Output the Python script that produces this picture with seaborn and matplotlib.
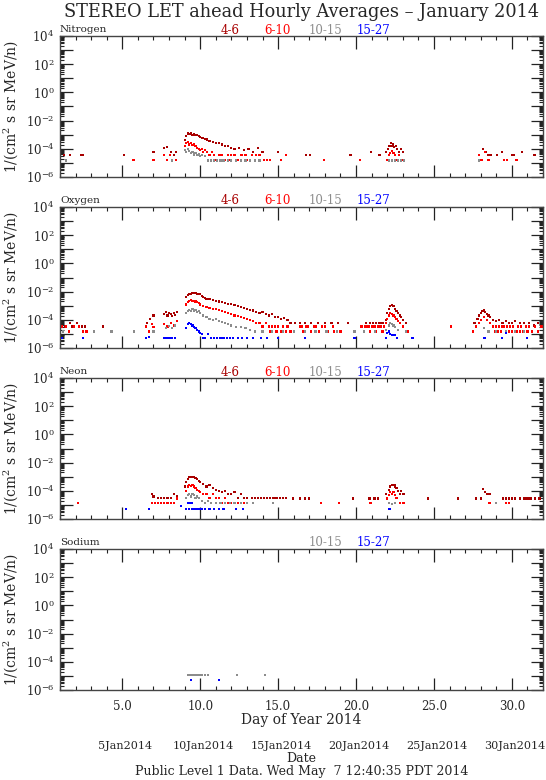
import numpy as np
import pandas as pd
import matplotlib
matplotlib.use("Agg")
import matplotlib.pyplot as plt
import matplotlib.ticker as mticker
import matplotlib.transforms as mtransforms
import seaborn as sns

# ---- data (day of year, flux) ----
channels = ["4-6", "6-10", "10-15", "15-27"]
channel_colors = ["#a80000", "#ff0000", "#8c8c8c", "#0000ff"]

# Nitrogen
n46_day = [1.25, 1.63, 2.35, 2.46, 5.12, 7.0, 7.67, 7.85, 8.1, 8.3, 8.45,
           9.0, 9.1, 9.2, 9.3, 9.4, 9.5, 9.6, 9.7, 9.8, 9.9, 10.0, 10.15, 10.3, 10.45, 10.6, 10.8,
           11.0, 11.2, 11.4, 11.6, 11.8, 12.0, 12.2, 12.5, 12.8, 13.1, 13.4, 13.7, 14.0,
           14.97, 15.5, 16.77, 17.07, 19.65, 20.94, 21.51,
           21.94, 22.05, 22.15, 22.25, 22.3, 22.35, 22.45, 22.55, 22.65, 22.75, 22.9, 23.0,
           28.14, 28.35, 28.5, 28.67, 29.03, 29.38, 30.0, 30.15, 30.64, 31.45]
n46_flux = [3.5e-5, 3.5e-5, 3.5e-5, 3.5e-5, 3.5e-5, 6e-5, 1.1e-4, 1.3e-4, 6e-5, 3.5e-5, 6e-5,
            4e-4, 8e-4, 1.2e-3, 1.1e-3, 1.2e-3, 1.0e-3, 1.1e-3, 9e-4, 1.0e-3, 8e-4, 7e-4, 6e-4, 5e-4, 4.5e-4, 3.5e-4, 3e-4,
            2.5e-4, 2.5e-4, 2e-4, 1.5e-4, 1.5e-4, 1.2e-4, 1e-4, 1.2e-4, 8e-5, 1e-4, 6e-5, 1.2e-4, 6e-5,
            6e-5, 3.5e-5, 3.5e-5, 3.5e-5, 3.5e-5, 6e-5, 3.5e-5,
            6e-5, 1.0e-4, 1.6e-4, 2.7e-4, 1.6e-4, 2.0e-4, 1.3e-4, 1.6e-4, 1e-4, 6e-5, 1e-4, 6e-5,
            1e-4, 6e-5, 3.5e-5, 3.5e-5, 3.5e-5, 6e-5, 3.5e-5, 3.5e-5, 6e-5, 3.5e-5]
n610_day = [5.72, 7.0, 7.7, 7.85, 8.07, 8.2, 8.45,
            9.0, 9.1, 9.2, 9.3, 9.4, 9.5, 9.6, 9.7, 9.8, 9.9, 10.0, 10.1, 10.2, 10.3, 10.45, 10.6,
            10.75, 10.9, 11.05, 11.2, 11.4, 11.6, 11.8, 12.0, 12.3, 12.6, 12.9, 13.2, 13.5, 13.8,
            14.1, 14.5, 10.5, 10.7, 11.0, 11.3, 11.5, 11.9, 12.2, 12.4, 12.7, 13.0, 13.3, 13.6, 14.3,
            15.2, 15.5, 17.92, 20.25, 21.99, 22.1, 22.2, 22.3, 22.4, 22.5, 22.6, 22.75, 22.9, 23.05,
            27.9, 28.05, 28.3, 28.5, 29.5, 29.7, 30.3]
n610_flux = [1.6e-5, 1.6e-5, 3.5e-5, 1.6e-5, 3.5e-5, 1.6e-5, 1.6e-5,
             1.5e-4, 2.5e-4, 3e-4, 2e-4, 2.5e-4, 1.8e-4, 2.2e-4, 1.5e-4, 1.2e-4, 1e-4, 8e-5, 1e-4, 6e-5, 8e-5, 6e-5, 3.5e-5,
             6e-5, 3.5e-5, 1.6e-5, 3.5e-5, 3.5e-5, 1.6e-5, 3.5e-5, 3.5e-5, 1.6e-5, 3.5e-5, 3.5e-5, 1.6e-5, 1.6e-5, 3.5e-5,
             1.6e-5, 1.6e-5, 1.6e-5, 1.6e-5, 1.6e-5, 3.5e-5, 1.6e-5, 1.6e-5, 3.5e-5, 1.6e-5, 3.5e-5, 1.6e-5, 3.5e-5, 3.5e-5, 1.6e-5,
             1.6e-5, 3.5e-5, 1.6e-5, 1.6e-5, 1.6e-5, 3.5e-5, 5e-5, 7e-5, 5e-5, 3.5e-5, 1.6e-5, 3.5e-5, 1.6e-5, 1.6e-5,
             3.5e-5, 1.6e-5, 6e-5, 1.6e-5, 1.6e-5, 1.6e-5, 1.6e-5]
n1015_day = [1.4, 8.18, 9.0, 9.1, 9.2, 9.3, 9.4, 9.5, 9.6, 9.7, 9.8, 9.9, 10.0, 10.1, 10.3,
             10.5, 10.7, 10.9, 11.1, 11.3, 11.5, 11.8, 12.0, 12.3, 12.6, 12.9, 13.2, 13.5, 13.8,
             22.1, 22.3, 22.5, 22.7, 22.9, 23.1, 27.9]
n1015_flux = [1.5e-5, 1.5e-5, 8e-5, 6e-5, 1e-4, 7e-5, 5e-5, 6e-5, 4e-5, 5e-5, 3.5e-5, 4e-5, 3e-5, 3.5e-5, 3e-5,
              1.5e-5, 1.5e-5, 1.5e-5, 1.5e-5, 1.5e-5, 1.5e-5, 1.5e-5, 1.5e-5, 1.5e-5, 1.5e-5, 1.5e-5, 1.5e-5, 1.5e-5, 1.5e-5,
              1.5e-5, 1.5e-5, 1.5e-5, 1.5e-5, 1.5e-5, 1.5e-5, 1.5e-5]
n1527_day = []
n1527_flux = []

# Oxygen
o46_day = [1.1, 1.3, 1.63, 1.8, 2.1, 2.4, 2.6, 3.75, 6.6, 6.8, 7.0,
           7.7, 7.8, 7.9, 8.0, 8.1, 8.2, 8.3, 8.4, 8.5,
           9.1, 9.2, 9.3, 9.4, 9.5, 9.6, 9.7, 9.8, 9.9, 10.0, 10.1, 10.2, 10.3, 10.4, 10.6, 10.8,
           11.0, 11.2, 11.4, 11.6, 11.8, 12.0, 12.2, 12.4, 12.6, 12.8, 13.0, 13.2, 13.4, 13.6, 13.8,
           14.0, 14.2, 14.4, 14.6, 14.8, 15.0, 15.2, 15.4, 15.6, 15.8,
           16.06, 16.38, 16.71, 17.13, 17.56, 17.99, 18.42, 18.84, 19.48, 20.66, 20.9, 21.1, 21.3, 21.5, 21.7,
           21.9, 22.0, 22.1, 22.2, 22.3, 22.4, 22.5, 22.6, 22.7, 22.8, 22.9, 23.0, 23.2,
           27.6, 27.8, 27.9, 28.0, 28.1, 28.2, 28.3, 28.4, 28.5, 28.6, 28.8, 29.0, 29.2, 29.4,
           29.6, 29.8, 30.0, 30.2, 30.5, 30.8, 31.1, 31.4, 31.7]
o46_flux = [3.3e-5, 3.3e-5, 6e-5, 3.3e-5, 6e-5, 3.3e-5, 3.3e-5, 3.3e-5, 6e-5, 1.2e-4, 2e-4,
            2.5e-4, 3.5e-4, 2e-4, 3e-4, 2.5e-4, 1.8e-4, 3e-4, 2.2e-4, 3.5e-4,
            4e-3, 5.5e-3, 6.5e-3, 7e-3, 7.5e-3, 8e-3, 7.5e-3, 7e-3, 7e-3, 6.5e-3, 5e-3, 4e-3, 3.5e-3, 3e-3, 2.8e-3, 2.5e-3,
            2.2e-3, 2e-3, 1.8e-3, 1.6e-3, 1.4e-3, 1.3e-3, 1.1e-3, 9e-4, 8e-4, 7e-4, 6e-4, 5e-4, 4.5e-4, 3.5e-4, 3e-4,
            3.5e-4, 2.5e-4, 2e-4, 2.5e-4, 1.5e-4, 1.5e-4, 1.2e-4, 1.3e-4, 1e-4, 6e-5,
            6e-5, 6e-5, 6e-5, 6e-5, 6e-5, 6e-5, 6e-5, 6e-5, 6e-5, 6e-5, 6e-5, 6e-5, 6e-5, 6e-5, 6e-5,
            1e-4, 3e-4, 6e-4, 1e-3, 1.1e-3, 9e-4, 6e-4, 4e-4, 3e-4, 2e-4, 1.5e-4, 1e-4, 6e-5,
            6e-5, 1.2e-4, 2e-4, 3e-4, 4e-4, 4.5e-4, 3.5e-4, 2.5e-4, 2e-4, 1.5e-4, 1e-4, 8e-5, 1e-4, 6e-5,
            8e-5, 6e-5, 6e-5, 8e-5, 6e-5, 6e-5, 6e-5, 4e-5, 6e-5]
o610_day = [1.1, 1.2, 1.4, 1.6, 1.9, 2.2, 2.5, 2.7, 6.5, 6.7, 6.9, 7.0, 7.7, 7.9, 8.1, 8.3, 8.5,
            9.1, 9.2, 9.3, 9.4, 9.5, 9.6, 9.7, 9.8, 9.9, 10.0, 10.2, 10.4, 10.6, 10.8, 11.0, 11.2, 11.4,
            11.6, 11.8, 12.0, 12.2, 12.4, 12.6, 12.8, 13.0, 13.2, 13.4, 13.6, 13.8, 14.0, 14.2,
            14.4, 14.5, 14.6, 14.8, 14.9, 15.0, 15.2, 15.3, 15.5, 15.6, 15.8, 16.0, 16.4, 16.5, 16.6,
            16.8, 16.9, 17.1, 17.3, 17.4, 17.6, 17.8, 18.0, 18.2, 18.5, 18.6, 19.0, 20.3, 20.4, 20.5,
            20.6, 20.7, 20.8, 20.9, 21.0, 21.1, 21.2, 21.3, 21.4, 21.5, 21.6, 21.7, 21.8,
            21.9, 22.0, 22.1, 22.2, 22.3, 22.4, 22.5, 22.6, 22.7, 22.8, 23.0, 23.3, 26.1,
            27.5, 27.7, 27.9, 28.0, 28.2, 28.4, 28.6, 28.8, 28.9, 29.0, 29.1, 29.2, 29.3, 29.4, 29.5,
            29.6, 29.7, 29.8, 29.9, 30.0, 30.1, 30.3, 30.4, 30.5, 30.6, 30.7, 30.9, 31.0, 31.1, 31.3,
            31.5, 31.7, 31.9]
o610_flux = [3.3e-5, 1.5e-5, 3.3e-5, 1.5e-5, 3.3e-5, 3.3e-5, 1.5e-5, 1.5e-5, 3.3e-5, 1.5e-5, 5e-5, 3e-5, 5e-5, 3.3e-5, 6e-5, 4e-5, 8e-5,
             1.2e-3, 1.8e-3, 2.2e-3, 2.5e-3, 2.3e-3, 2.2e-3, 2e-3, 1.8e-3, 1.5e-3, 1.2e-3, 9e-4, 8e-4, 7e-4, 6e-4, 5.5e-4, 5e-4, 4e-4,
             3.5e-4, 3e-4, 2.5e-4, 2e-4, 1.8e-4, 1.5e-4, 1.3e-4, 1.2e-4, 1e-4, 8e-5, 6e-5, 6e-5, 3.3e-5, 6e-5,
             3.3e-5, 1.5e-5, 3.3e-5, 3.3e-5, 1.5e-5, 3.3e-5, 1.5e-5, 3.3e-5, 1.5e-5, 3.3e-5, 1.5e-5, 1.5e-5, 3.3e-5, 3.3e-5, 1.5e-5,
             3.3e-5, 3.3e-5, 1.5e-5, 3.3e-5, 3.3e-5, 1.5e-5, 3.3e-5, 3.3e-5, 1.5e-5, 3.3e-5, 1.5e-5, 1.5e-5, 3.3e-5, 3.3e-5, 1.5e-5,
             3.3e-5, 3.3e-5, 3.3e-5, 1.5e-5, 3.3e-5, 3.3e-5, 3.3e-5, 1.5e-5, 3.3e-5, 3.3e-5, 3.3e-5, 1.5e-5, 3.3e-5,
             6e-5, 1.2e-4, 2e-4, 3e-4, 2.5e-4, 2e-4, 1.5e-4, 1.2e-4, 8e-5, 6e-5, 3.3e-5, 1.5e-5, 3.3e-5,
             1.5e-5, 3.3e-5, 6e-5, 1e-4, 1.5e-4, 1e-4, 6e-5, 3.3e-5, 1.5e-5, 3.3e-5, 1.5e-5, 3.3e-5, 1.5e-5, 3.3e-5, 3.3e-5,
             1.5e-5, 3.3e-5, 1.5e-5, 3.3e-5, 1.5e-5, 3.3e-5, 1.5e-5, 3.3e-5, 1.5e-5, 3.3e-5, 1.5e-5, 3.3e-5, 1.5e-5, 3.3e-5, 1.5e-5,
             3.3e-5, 1.5e-5, 3.3e-5]
o1015_day = [1.2, 3.2, 4.3, 5.77, 7.0, 7.8, 8.0, 8.2, 8.4,
             9.1, 9.2, 9.3, 9.4, 9.5, 9.6, 9.7, 9.8, 9.9, 10.0, 10.2, 10.4, 10.6, 10.8, 11.0, 11.2,
             11.4, 11.6, 11.8, 12.0, 12.3, 12.6, 12.9, 13.2, 13.5, 14.0, 14.6, 15.3, 16.0, 16.7, 17.4,
             18.1, 18.8, 19.9, 20.5, 21.2, 21.9, 22.1, 22.2, 22.3, 22.4, 22.5, 22.7, 23.2,
             28.2, 28.5, 29.0, 29.6, 30.2, 30.8]
o1015_flux = [1.5e-5, 1.5e-5, 1.5e-5, 1.5e-5, 1.5e-5, 2.5e-5, 3.5e-5, 2.5e-5, 4e-5,
              3e-4, 4e-4, 5e-4, 4e-4, 5.5e-4, 4.5e-4, 5e-4, 3.5e-4, 4e-4, 3e-4, 2e-4, 1.5e-4, 1.2e-4, 1e-4, 1.2e-4, 8e-5,
              7e-5, 6e-5, 5e-5, 4e-5, 3e-5, 3e-5, 2.5e-5, 2e-5, 1.5e-5, 1.5e-5, 1.5e-5, 1.5e-5, 1.5e-5, 1.5e-5, 1.5e-5,
              1.5e-5, 1.5e-5, 1.5e-5, 1.5e-5, 1.5e-5, 2e-5, 4e-5, 6e-5, 5e-5, 4e-5, 3e-5, 2e-5, 1.5e-5,
              2.5e-5, 1.5e-5, 1.5e-5, 1.5e-5, 1.5e-5, 1.5e-5]
o1527_day = [1.1, 2.5, 6.5, 6.7, 7.7, 7.8, 7.9, 8.0, 8.1, 8.2, 8.4,
             9.1, 9.2, 9.3, 9.4, 9.5, 9.6, 9.7, 9.8, 9.9, 10.0, 10.1, 10.2, 10.3, 10.5, 10.7, 10.9,
             11.1, 11.3, 11.5, 11.7, 11.9, 12.1, 12.4, 12.7, 13.0, 13.4, 13.9, 14.3, 15.0, 16.7, 19.9,
             21.94, 22.0, 22.1, 22.2, 22.3, 22.4, 22.5, 22.65, 23.62,
             28.24, 29.35, 29.6, 30.96]
o1527_flux = [5e-6, 5e-6, 5e-6, 6e-6, 5e-6, 5e-6, 5e-6, 5e-6, 5e-6, 5e-6, 5e-6,
              2.5e-5, 5e-5, 6e-5, 5e-5, 4e-5, 3e-5, 2.5e-5, 2e-5, 1.5e-5, 1.2e-5, 1e-5, 5e-6, 5e-6, 1e-5, 5e-6, 5e-6,
              5e-6, 5e-6, 5e-6, 5e-6, 5e-6, 5e-6, 5e-6, 5e-6, 5e-6, 5e-6, 5e-6, 5e-6, 5e-6, 5e-6, 5e-6,
              5e-6, 1.2e-5, 1.5e-5, 1e-5, 8e-6, 8e-6, 8e-6, 5e-6, 5e-6,
              5e-6, 5e-6, 1.1e-5, 5e-6]

# Neon
ne46_day = [6.9, 7.0, 7.3, 7.5, 7.7, 7.9, 8.1, 8.3, 8.5,
            9.0, 9.1, 9.2, 9.3, 9.4, 9.5, 9.6, 9.7, 9.8, 9.9, 10.0, 10.2, 10.4, 10.6, 10.8, 11.0,
            11.2, 11.4, 11.6, 11.8, 12.0, 12.2, 12.4, 12.6, 12.8, 13.0, 13.3, 13.5, 13.7, 13.9,
            14.1, 14.3, 14.5, 14.7, 14.9, 15.1, 15.3, 15.5, 15.96, 16.38, 16.71, 16.98, 19.8,
            20.87, 21.19, 21.4, 21.94, 22.1, 22.2, 22.3, 22.47, 22.5, 22.6, 22.7, 22.8, 22.9, 23.0,
            23.1, 24.6, 26.53, 27.71, 28.03, 28.13, 28.3, 28.4, 28.56, 29.42, 29.6, 29.8, 30.0,
            30.2, 30.5, 30.81, 31.0, 31.2, 31.5, 31.77]
ne46_flux = [6e-5, 4e-5, 3e-5, 3e-5, 3e-5, 3e-5, 3e-5, 6e-5, 4e-5,
             2e-4, 4e-4, 7e-4, 9e-4, 1e-3, 9e-4, 1e-3, 8e-4, 7e-4, 5e-4, 4e-4, 3e-4, 2e-4, 2.5e-4, 1.5e-4, 1.2e-4,
             1e-4, 8e-5, 1e-4, 6e-5, 6e-5, 8e-5, 3e-5, 6e-5, 3e-5, 3e-5, 3e-5, 3e-5, 3e-5, 3e-5,
             3e-5, 3e-5, 3e-5, 3e-5, 3e-5, 3e-5, 3e-5, 3e-5, 2.8e-5, 2.8e-5, 2.8e-5, 2.8e-5, 2.8e-5,
             2.8e-5, 2.8e-5, 2.8e-5, 6e-5, 1.2e-4, 2e-4, 2.5e-4, 2.7e-4, 2e-4, 1.5e-4, 1e-4, 6e-5, 1e-4, 6e-5,
             6e-5, 2.8e-5, 2.8e-5, 2.8e-5, 2.8e-5, 1.3e-4, 8e-5, 6e-5, 6e-5, 2.8e-5, 2.8e-5, 2.8e-5, 2.8e-5,
             2.8e-5, 2.8e-5, 2.8e-5, 2.8e-5, 2.8e-5, 2.8e-5, 2.8e-5]
ne610_day = [2.13, 6.9, 7.1, 7.3, 7.5, 7.7, 7.9, 8.1, 8.3, 8.5,
             9.1, 9.2, 9.3, 9.4, 9.5, 9.6, 9.7, 9.8, 9.9, 10.0, 10.2, 10.4, 10.6, 10.8, 11.0, 11.2,
             11.4, 11.6, 11.8, 12.0, 12.2, 12.4, 12.6, 12.8, 13.0,
             17.77, 18.9, 20.93, 22.0, 22.1, 22.2, 22.3, 22.4, 22.5, 22.6, 22.8, 23.0, 23.1,
             28.56, 29.6, 29.8]
ne610_flux = [1.3e-5, 1.3e-5, 1.3e-5, 1.3e-5, 1.3e-5, 1.3e-5, 1.3e-5, 1.3e-5, 1.3e-5, 2.8e-5,
              1e-4, 2e-4, 2.5e-4, 2.2e-4, 2.5e-4, 2e-4, 1.5e-4, 1.2e-4, 1e-4, 8e-5, 6e-5, 6e-5, 3e-5, 6e-5, 3e-5, 3e-5,
              1.3e-5, 3e-5, 1.3e-5, 1.3e-5, 1.3e-5, 1.3e-5, 1.3e-5, 1.3e-5, 1.3e-5,
              1.3e-5, 1.3e-5, 1.3e-5, 2.8e-5, 5e-5, 8e-5, 6e-5, 8e-5, 5e-5, 3e-5, 1.3e-5, 1.3e-5, 1.3e-5,
              1.3e-5, 1.3e-5, 1.3e-5]
ne1015_day = [9.1, 9.2, 9.3, 9.4, 9.5, 9.6, 9.7, 9.8, 9.9, 10.1, 10.3, 10.5, 10.7, 11.0, 11.3,
              11.6, 11.9, 12.2, 12.6, 13.0, 13.4, 14.66, 22.1, 22.3, 22.5, 29.0]
ne1015_flux = [3e-5, 5e-5, 6e-5, 4e-5, 6e-5, 5e-5, 3e-5, 4e-5, 3e-5, 2e-5, 1.3e-5, 2e-5, 1.3e-5, 1.3e-5, 1.3e-5,
               1.3e-5, 1.3e-5, 1.3e-5, 1.3e-5, 1.3e-5, 1.3e-5, 1.3e-5, 1.3e-5, 1.1e-5, 1.3e-5, 1.3e-5]
ne1527_day = [5.23, 6.7, 8.76, 9.1, 9.2, 9.25, 9.3, 9.35, 9.45, 9.5, 9.6, 9.7, 9.8, 9.9, 10.0,
              10.1, 10.3, 10.6, 10.9, 11.2, 11.5, 12.3, 12.75, 22.1, 22.2]
ne1527_flux = [5e-6, 5e-6, 8.5e-6, 5e-6, 1.3e-5, 1.3e-5, 5e-6, 1.3e-5, 1.3e-5, 5e-6, 5e-6, 5e-6, 5e-6, 5e-6, 5e-6,
               5e-6, 5e-6, 5e-6, 5e-6, 5e-6, 5e-6, 5e-6, 5e-6, 5e-6, 5e-6]

# Sodium
na46_day, na46_flux = [], []
na610_day, na610_flux = [], []
na1015_day = [9.2, 9.35, 9.5, 9.65, 9.8, 9.95, 10.1, 10.3, 10.5, 12.37, 14.16]
na1015_flux = [1.1e-5, 1.1e-5, 1.1e-5, 1.1e-5, 1.1e-5, 1.1e-5, 1.1e-5, 1.2e-5, 1.1e-5, 1.1e-5, 1.1e-5]
na1527_day = [9.42, 11.2]
na1527_flux = [5e-6, 5e-6]

elements = ["Nitrogen", "Oxygen", "Neon", "Sodium"]
element_days = [
    [n46_day, n610_day, n1015_day, n1527_day],
    [o46_day, o610_day, o1015_day, o1527_day],
    [ne46_day, ne610_day, ne1015_day, ne1527_day],
    [na46_day, na610_day, na1015_day, na1527_day],
]
element_flux = [
    [n46_flux, n610_flux, n1015_flux, n1527_flux],
    [o46_flux, o610_flux, o1015_flux, o1527_flux],
    [ne46_flux, ne610_flux, ne1015_flux, ne1527_flux],
    [na46_flux, na610_flux, na1015_flux, na1527_flux],
]
legend_shown = [channels, channels, channels, ["10-15", "15-27"]]

date_days = [5, 10, 15, 20, 25, 30]
date_labels = ["5Jan2014", "10Jan2014", "15Jan2014", "20Jan2014", "25Jan2014", "30Jan2014"]

# ---- style ----
sns.set_theme(style="ticks")
plt.rcParams["font.family"] = ["DejaVu Serif"]
plt.rcParams["mathtext.fontset"] = "dejavuserif"

palette = dict(zip(channels, channel_colors))
fig = plt.figure(figsize=(5.46, 7.80), dpi=100)

left, width, height = 60 / 546, 483 / 546, 141 / 780
tops = [36, 207, 378, 549]


def decade_label(v, pos):
    e = int(round(np.log10(v)))
    if e % 2:
        return ""
    return r"$10^{%d}$" % e


axes = []
for i, name in enumerate(elements):
    ax = fig.add_axes([left, 1 - (tops[i] + 141) / 780, width, height])
    axes.append(ax)
    rows = []
    for ch, d, f in zip(channels, element_days[i], element_flux[i]):
        rows.append(pd.DataFrame({"day": d, "flux": f, "channel": ch}))
    df = pd.concat(rows, ignore_index=True)
    if len(df):
        sns.scatterplot(data=df, x="day", y="flux", hue="channel", palette=palette,
                        hue_order=channels, marker="s", s=2.5, linewidth=0, legend=False, ax=ax)
    ax.set_yscale("log")
    ax.set_xlim(1, 32)
    ax.set_ylim(1e-6, 1e4)
    ax.xaxis.set_major_locator(mticker.MultipleLocator(5))
    ax.xaxis.set_minor_locator(mticker.MultipleLocator(1))
    ax.yaxis.set_major_locator(mticker.LogLocator(base=10, numticks=20))
    ax.yaxis.set_minor_locator(mticker.LogLocator(base=10, subs=np.arange(2, 10), numticks=20))
    ax.yaxis.set_major_formatter(mticker.FuncFormatter(decade_label))
    ax.yaxis.set_minor_formatter(mticker.NullFormatter())
    ax.tick_params(which="both", direction="in", top=True, right=True, color="#222222")
    ax.tick_params(which="major", length=9, width=0.9, labelsize=8.5, pad=4)
    ax.tick_params(which="minor", length=3, width=0.8)
    for sp in ax.spines.values():
        sp.set_color("#444444")
        sp.set_linewidth(1.0)
    ax.set_ylabel("1/(cm$^2$ s sr MeV/n)", fontsize=10, labelpad=4)
    ax.set_xlabel("")
    if i < 3:
        ax.tick_params(axis="x", labelbottom=False)
    else:
        ax.xaxis.set_major_formatter(mticker.FormatStrFormatter("%.1f"))
        ax.tick_params(axis="x", which="major", pad=7)
        ax.set_xlabel("Day of Year 2014", fontsize=10, labelpad=0)

    ax.text(0.0, 1.015, name, transform=ax.transAxes, fontsize=7.5, ha="left", va="bottom")
    legend_x = [230, 277, 326, 374]
    for ch, col, lx in zip(channels, channel_colors, legend_x):
        if ch in legend_shown[i]:
            fig.text(lx / 546, 1 - (tops[i] - 6) / 780, ch, color=col, fontsize=8.5,
                     ha="center", va="center")

fig.text(301.5 / 546, 1 - 12 / 780, "STEREO LET ahead Hourly Averages \u2013 January 2014",
         fontsize=12.8, ha="center", va="center")

trans = mtransforms.blended_transform_factory(axes[3].transData, fig.transFigure)
for d, lab in zip(date_days, date_labels):
    fig.text(d + 0.2, 1 - 746 / 780, lab, transform=trans, fontsize=8, ha="center", va="center")
fig.text(301.5 / 546, 1 - 758 / 780, "Date", fontsize=9, ha="center", va="center")
fig.text(301.5 / 546, 1 - 771 / 780, "Public Level 1 Data. Wed May  7 12:40:35 PDT 2014",
         fontsize=9, ha="center", va="center")

fig.savefig("out.png", dpi=100)
